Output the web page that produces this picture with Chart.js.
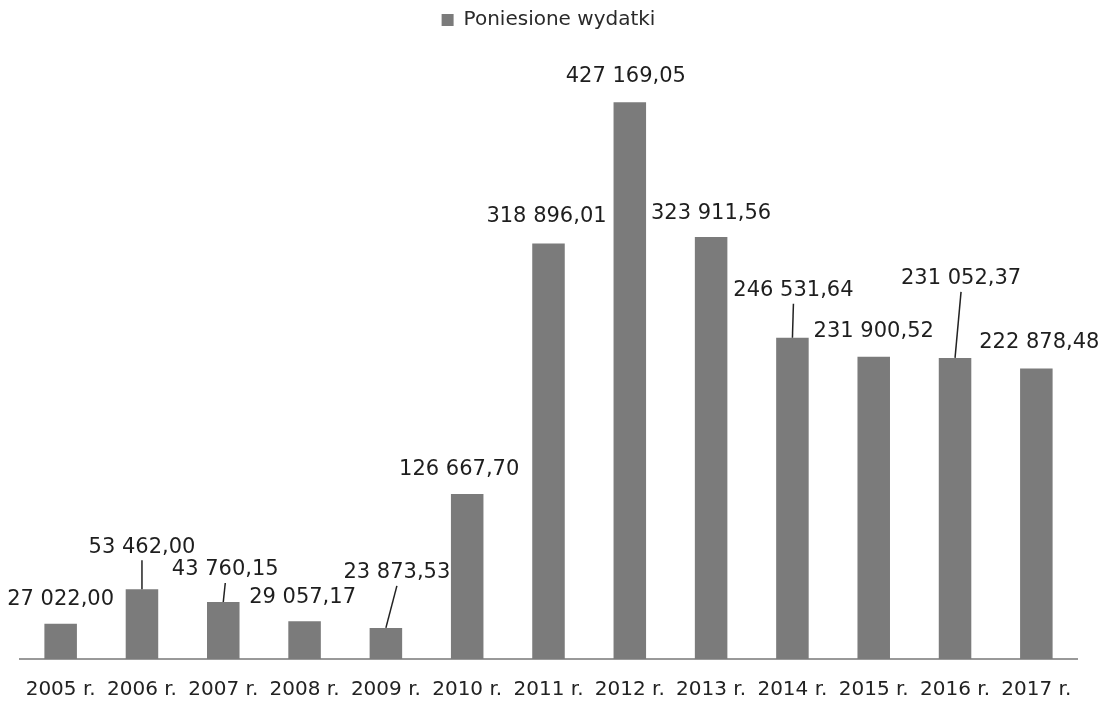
<!DOCTYPE html>
<html><head><meta charset="utf-8">
<script src="https://cdn.jsdelivr.net/npm/chart.js@4.4.1/dist/chart.umd.min.js"></script>
<style>html,body{margin:0;padding:0;background:#fff}#wrap{width:1106px;height:702px}</style>
</head><body><div id="wrap"><canvas id="c"></canvas></div>
<script>
const categories = ['2005 r.','2006 r.','2007 r.','2008 r.','2009 r.','2010 r.','2011 r.','2012 r.','2013 r.','2014 r.','2015 r.','2016 r.','2017 r.'];
const values = [27022.00, 53462.00, 43760.15, 29057.17, 23873.53, 126667.70, 318896.01, 427169.05, 323911.56, 246531.64, 231900.52, 231052.37, 222878.48];
const seriesName = 'Poniesione wydatki';
// value-label placement relative to each bar's top centre (px), and whether a leader line is drawn
const labelOffsets = [[0,-24],[0,-42],[2,-32],[-2,-24],[11,-55],[-8,-24],[-2,-27],[-4,-26],[0,-23],[1,-47],[0,-25],[6,-79],[3,-26]];
const leaderLines = [false,true,true,false,true,false,false,false,false,true,false,true,false];

function fmt(v){
  const [i,d] = v.toFixed(2).split('.');
  return i.replace(/\B(?=(\d{3})+(?!\d))/g,' ') + ',' + d;
}
const FONT = 'DejaVu Sans';
const valueLabelPlugin = {
  id:'valueLabels',
  afterDatasetsDraw(chart){
    const ctx = chart.ctx;
    const meta = chart.getDatasetMeta(0);
    ctx.save();
    ctx.font = '21px "' + FONT + '"';
    ctx.fillStyle = '#1e1e1e';
    ctx.textAlign = 'center';
    ctx.textBaseline = 'middle';
    meta.data.forEach((bar,i)=>{
      const [dx,dy] = labelOffsets[i];
      const lx = bar.x + dx, ly = bar.y + dy;
      if (leaderLines[i]) {
        ctx.beginPath();
        ctx.strokeStyle = '#222';
        ctx.lineWidth = 1.5;
        ctx.moveTo(bar.x, bar.y);
        ctx.lineTo(lx, ly + 13);
        ctx.stroke();
      }
      ctx.fillText(fmt(values[i]), lx, ly);
    });
    ctx.restore();
  }
};

new Chart(document.getElementById('c'), {
  type:'bar',
  data:{labels:categories,datasets:[{label:seriesName,data:values,backgroundColor:'#7b7b7b',barPercentage:0.8,categoryPercentage:0.5}]},
  options:{
    responsive:true, maintainAspectRatio:false, animation:false,
    layout:{padding:{left:20,right:29,top:2,bottom:0}},
    plugins:{
      tooltip:{enabled:false},
      legend:{position:'top',labels:{boxWidth:12,boxHeight:12,padding:8,color:'#2a2a2a',font:{family:FONT,size:20}}}
    },
    scales:{
      x:{grid:{display:false,drawTicks:false},border:{color:'#999',width:2},
         afterFit(scale){ scale.height = 43; },
         ticks:{color:'#222',padding:19,font:{family:FONT,size:20}}},
      y:{display:false,min:0,max:475000}
    }
  },
  plugins:[valueLabelPlugin]
});
</script></body></html>
